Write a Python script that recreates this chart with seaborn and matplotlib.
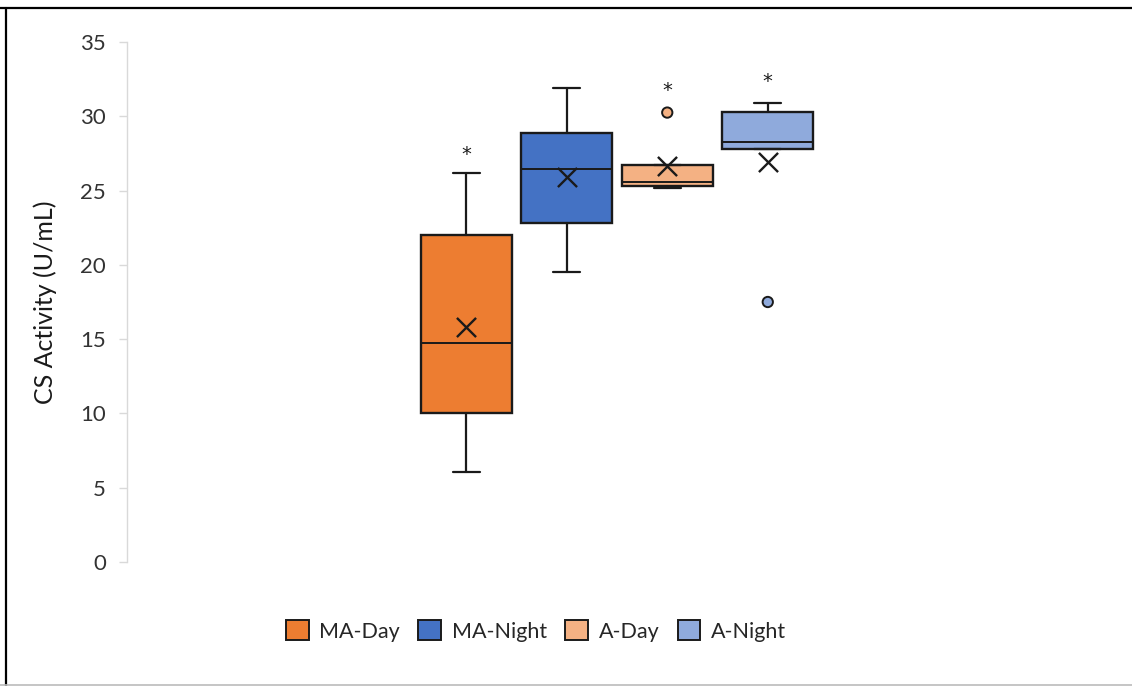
import matplotlib
matplotlib.use("Agg")
import matplotlib.pyplot as plt
import matplotlib.patches as mpatches
import matplotlib.lines as mlines
import pandas as pd
import seaborn as sns

# box summary (U/mL)
groups = ["MA-Day", "MA-Night", "A-Day", "A-Night"]
colors = ["#ED7D31", "#4472C4", "#F4B183", "#8FAADC"]
whis_lo = [6.05, 19.5, 25.2, 27.8]
q1 = [10.0, 22.85, 25.3, 27.8]
medians = [14.75, 26.45, 25.6, 28.3]
q3 = [22.0, 28.9, 26.7, 30.3]
whis_hi = [26.2, 31.9, 26.7, 30.9]
means = [15.8, 25.9, 26.65, 26.9]

outlier_groups = ["A-Day", "A-Night"]
outlier_values = [30.25, 17.5]

star_groups = ["MA-Day", "A-Day", "A-Night"]
star_values = [27.6, 31.9, 32.5]

yticks = [0, 5, 10, 15, 20, 25, 30, 35]


def main():
    sns.set_theme(style="white")
    plt.rcParams["font.family"] = ["Lato", "DejaVu Sans"]

    fig = plt.figure(figsize=(11.32, 6.86), dpi=100)
    ax = fig.add_axes([127 / 1132, 1 - 562 / 686, 980 / 1132, 520 / 686])

    pos = {g: i for i, g in enumerate(groups)}

    stats = []
    for i, g in enumerate(groups):
        stats.append(dict(label=g, whislo=whis_lo[i], q1=q1[i], med=medians[i],
                          q3=q3[i], whishi=whis_hi[i], fliers=[]))
    bp = ax.bxp(stats, positions=list(range(len(groups))), widths=0.905,
                capwidths=0.27, patch_artist=True, showfliers=False,
                boxprops=dict(edgecolor="#1a1a1a", linewidth=1.7),
                medianprops=dict(color="#1a1a1a", linewidth=1.4),
                whiskerprops=dict(color="#1a1a1a", linewidth=1.6),
                capprops=dict(color="#1a1a1a", linewidth=1.6))
    for box, c in zip(bp["boxes"], colors):
        box.set_facecolor(c)

    mean_df = pd.DataFrame({"x": [pos[g] for g in groups], "mean": means})
    sns.scatterplot(data=mean_df, x="x", y="mean", marker="x", s=190,
                    color="#1a1a1a", linewidth=1.7, ax=ax, zorder=5)

    out_df = pd.DataFrame({"x": [pos[g] for g in outlier_groups],
                           "value": outlier_values, "group": outlier_groups})
    sns.scatterplot(data=out_df, x="x", y="value", hue="group",
                    palette=dict(zip(groups, colors)), s=55,
                    edgecolor="#1a1a1a", linewidth=1.4, ax=ax, legend=False, zorder=5)

    for g, v in zip(star_groups, star_values):
        ax.annotate("*", xy=(pos[g], v), xytext=(0, -6), textcoords="offset points",
                    ha="center", va="baseline", fontsize=14, family="DejaVu Sans",
                    color="#1a1a1a")

    ax.set_xlim(-3.375, 6.375)
    ax.set_ylim(0, 35)
    ax.set_yticks(yticks)
    ax.set_xticks([])
    ax.set_xlabel("")
    ax.set_ylabel("CS Activity (U/mL)", fontsize=18, color="#1a1a1a", labelpad=17)
    ax.tick_params(axis="y", left=True, length=6, width=1, color="#D9D9D9",
                   pad=9, labelsize=16, labelcolor="#333333")
    for side in ["top", "right", "bottom"]:
        ax.spines[side].set_visible(False)
    ax.spines["left"].set_color("#D9D9D9")
    ax.spines["left"].set_linewidth(1)

    handles = [mpatches.Patch(facecolor=c, edgecolor="#1a1a1a", linewidth=1.4, label=g)
               for g, c in zip(groups, colors)]
    fig.legend(handles=handles, loc="center", bbox_to_anchor=(536 / 1132, 1 - 631 / 686),
               ncol=4, frameon=False, fontsize=15.5, handlelength=1.05, handleheight=1.05,
               handletextpad=0.5, columnspacing=0.85, labelcolor="#262626")

    # screenshot frame
    fig.add_artist(mlines.Line2D([0, 1], [1 - 7.5 / 686] * 2, color="black", linewidth=1.6,
                                 transform=fig.transFigure))
    fig.add_artist(mlines.Line2D([5.5 / 1132] * 2, [0, 1 - 7.5 / 686], color="black", linewidth=1.6,
                                 transform=fig.transFigure))
    fig.add_artist(mlines.Line2D([0, 1], [1.5 / 686] * 2, color="#BBBBBB", linewidth=1.2,
                                 transform=fig.transFigure))

    fig.savefig("out.png", dpi=100, facecolor="white")


main()
